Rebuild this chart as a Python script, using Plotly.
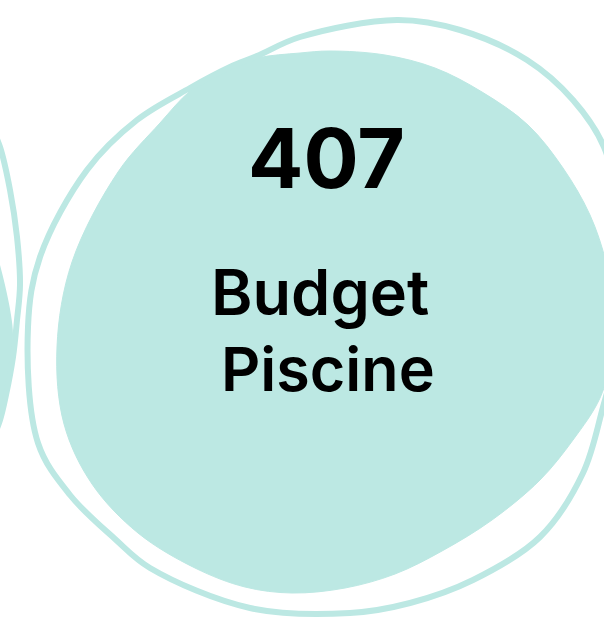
import plotly.graph_objects as go

# ---- content ----
value_text = "407"
label_lines = ["Budget", "Piscine"]

TEAL = "#bce8e3"

# decorative outlines / blob (pixel-like coordinates, y down)
blob_x = [190, 222, 257, 300, 330, 385, 435, 482, 528, 563, 590, 606, 614, 612, 600, 573, 540, 492, 442, 395, 345, 292, 245, 195, 138, 92, 64, 57, 72, 118, 160, 190]
blob_y = [91, 70, 58, 53, 51, 55, 68, 92, 125, 168, 215, 262, 310, 355, 398, 440, 480, 520, 551, 574, 588, 593, 587, 568, 533, 484, 424, 347, 262, 172, 123, 91]

ring_x = [28, 40, 87, 137, 190, 230, 257, 300, 397, 460, 527, 573, 604, 618, 622, 615, 603, 583, 540, 473, 410, 350, 250, 150, 115, 70, 38, 28]
ring_y = [327, 257, 170, 120, 88, 67, 56, 37, 20, 30, 60, 100, 147, 210, 290, 360, 407, 473, 537, 580, 603, 613, 608, 568, 539, 495, 443, 327]

left_ring_x = [-12, 0, 10, 17, 20, 17, 13, 6, 0, -12]
left_ring_y = [120, 147, 190, 237, 285, 320, 357, 395, 420, 450]

left_blob_x = [-10, -2, 5, 11, 13, 10, 4, -2, -10, -10]
left_blob_y = [235, 258, 285, 315, 335, 365, 395, 425, 440, 235]

fig = go.Figure()

fig.add_trace(go.Scatter(x=left_blob_x, y=left_blob_y, mode="lines", fill="toself",
                         fillcolor=TEAL, line=dict(color=TEAL, width=0, shape="spline"),
                         hoverinfo="skip", showlegend=False))
fig.add_trace(go.Scatter(x=left_ring_x, y=left_ring_y, mode="lines",
                         line=dict(color=TEAL, width=6, shape="spline"),
                         hoverinfo="skip", showlegend=False))
fig.add_trace(go.Scatter(x=blob_x, y=blob_y, mode="lines", fill="toself",
                         fillcolor=TEAL, line=dict(color=TEAL, width=1, shape="spline"),
                         hoverinfo="skip", showlegend=False))
fig.add_trace(go.Scatter(x=ring_x, y=ring_y, mode="lines",
                         line=dict(color=TEAL, width=6, shape="spline"),
                         hoverinfo="skip", showlegend=False))

fig.add_annotation(x=326, y=158, text=value_text, showarrow=False,
                   xanchor="center", yanchor="middle",
                   font=dict(family="Inter", size=82, color="#000000", weight=700))
fig.add_annotation(x=320, y=292, text=label_lines[0], showarrow=False,
                   xanchor="center", yanchor="middle",
                   font=dict(family="Inter", size=63, color="#000000", weight=600))
fig.add_annotation(x=328, y=369, text=label_lines[1], showarrow=False,
                   xanchor="center", yanchor="middle",
                   font=dict(family="Inter", size=61, color="#000000", weight=600))

fig.update_layout(
    width=604, height=620,
    margin=dict(l=0, r=0, t=0, b=0),
    paper_bgcolor="white", plot_bgcolor="white",
    xaxis=dict(range=[0, 604], visible=False, fixedrange=True),
    yaxis=dict(range=[620, 0], visible=False, fixedrange=True),
    showlegend=False,
)

fig.write_html("out.html", config={"displayModeBar": False},
               post_script="document.body.style.margin='0';document.body.style.overflow='hidden';")
